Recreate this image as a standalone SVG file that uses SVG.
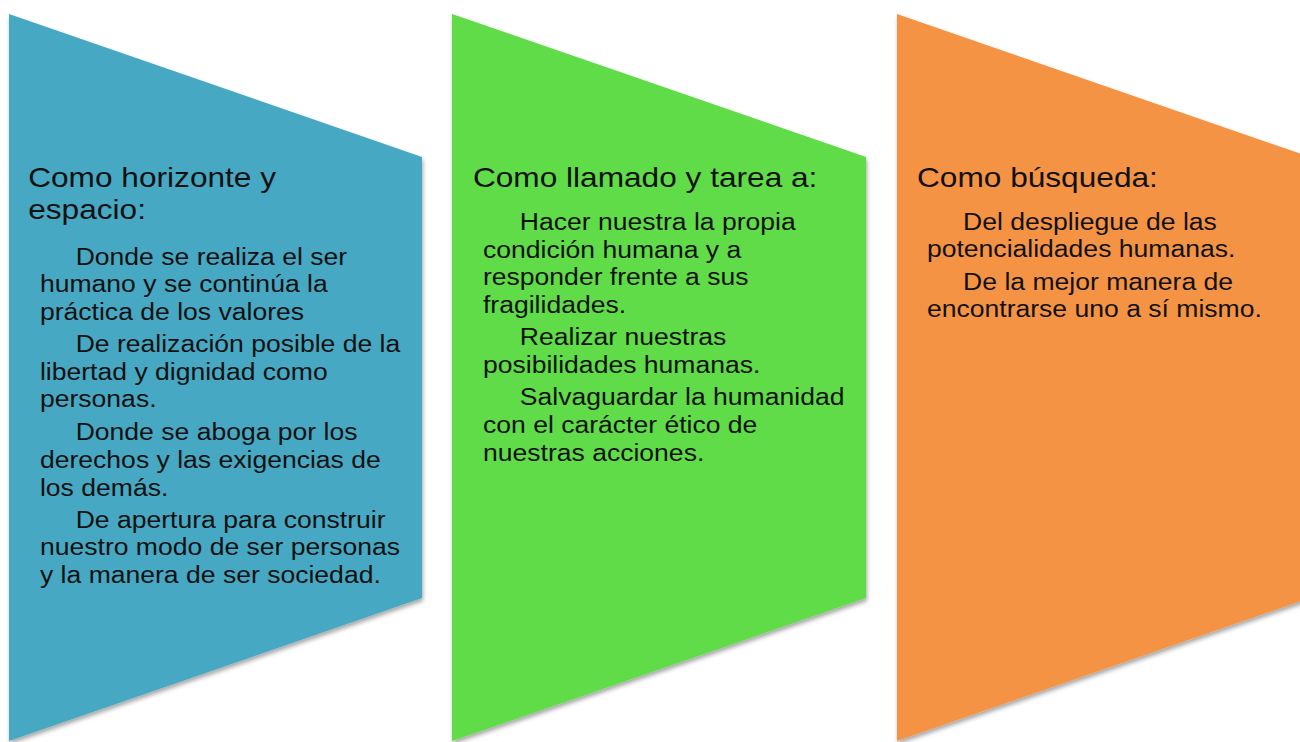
<svg xmlns="http://www.w3.org/2000/svg" width="1300" height="742" viewBox="0 0 1300 742">
<defs>
<filter id="sh" x="-10%" y="-10%" width="120%" height="120%">
<feDropShadow dx="1" dy="3" stdDeviation="2" flood-color="#000" flood-opacity="0.35"/>
</filter>
<style>
.t{font-family:"Liberation Sans",Arial,sans-serif;font-size:28px;fill:#111;}
.b{font-family:"Liberation Sans",Arial,sans-serif;font-size:23.5px;fill:#111;}
.shape{filter:url(#sh);}
</style>
</defs>
<rect width="1300" height="742" fill="#fff"/>
<g id="connectors"></g>
<g id="node1">
<polygon class="shape" points="9,14 422,157 422,598 9,741" fill="#46A8C3"/>
<g transform="translate(9,0) scale(1.13,1)">
<text class="t" x="17" y="187">Como horizonte y</text>
<text class="t" x="17" y="219">espacio:</text>
<text class="b" x="59" y="265">Donde se realiza el ser</text>
<text class="b" x="27.4" y="292.5">humano y se continúa la</text>
<text class="b" x="27.4" y="320">práctica de los valores</text>
<text class="b" x="59" y="352">De realización posible de la</text>
<text class="b" x="27.4" y="380">libertad y dignidad como</text>
<text class="b" x="27.4" y="407.5">personas.</text>
<text class="b" x="59" y="440">Donde se aboga por los</text>
<text class="b" x="27.4" y="468">derechos y las exigencias de</text>
<text class="b" x="27.4" y="496">los demás.</text>
<text class="b" x="59" y="528">De apertura para construir</text>
<text class="b" x="27.4" y="555.5">nuestro modo de ser personas</text>
<text class="b" x="27.4" y="583">y la manera de ser sociedad.</text>
</g>
</g>
<g id="node2">
<polygon class="shape" points="452,14 866,157 866,598 452,741" fill="#5EDC46"/>
<g transform="translate(452,0) scale(1.13,1)">
<text class="t" x="18.5" y="187">Como llamado y tarea a:</text>
<text class="b" x="60" y="230">Hacer nuestra la propia</text>
<text class="b" x="27.4" y="258">condición humana y a</text>
<text class="b" x="27.4" y="285.5">responder frente a sus</text>
<text class="b" x="27.4" y="313">fragilidades.</text>
<text class="b" x="60" y="345.5">Realizar nuestras</text>
<text class="b" x="27.4" y="373">posibilidades humanas.</text>
<text class="b" x="60" y="405.5">Salvaguardar la humanidad</text>
<text class="b" x="27.4" y="433">con el carácter ético de</text>
<text class="b" x="27.4" y="461">nuestras acciones.</text>
</g>
</g>
<g id="node3">
<polygon class="shape" points="897,14 1310,157 1310,598 897,741" fill="#F59344"/>
<g transform="translate(897,0) scale(1.13,1)">
<text class="t" x="17.7" y="187">Como búsqueda:</text>
<text class="b" x="58.5" y="230">Del despliegue de las</text>
<text class="b" x="26.5" y="257.5">potencialidades humanas.</text>
<text class="b" x="58.5" y="290">De la mejor manera de</text>
<text class="b" x="26.5" y="317.5">encontrarse uno a sí mismo.</text>
</g>
</g>
</svg>
